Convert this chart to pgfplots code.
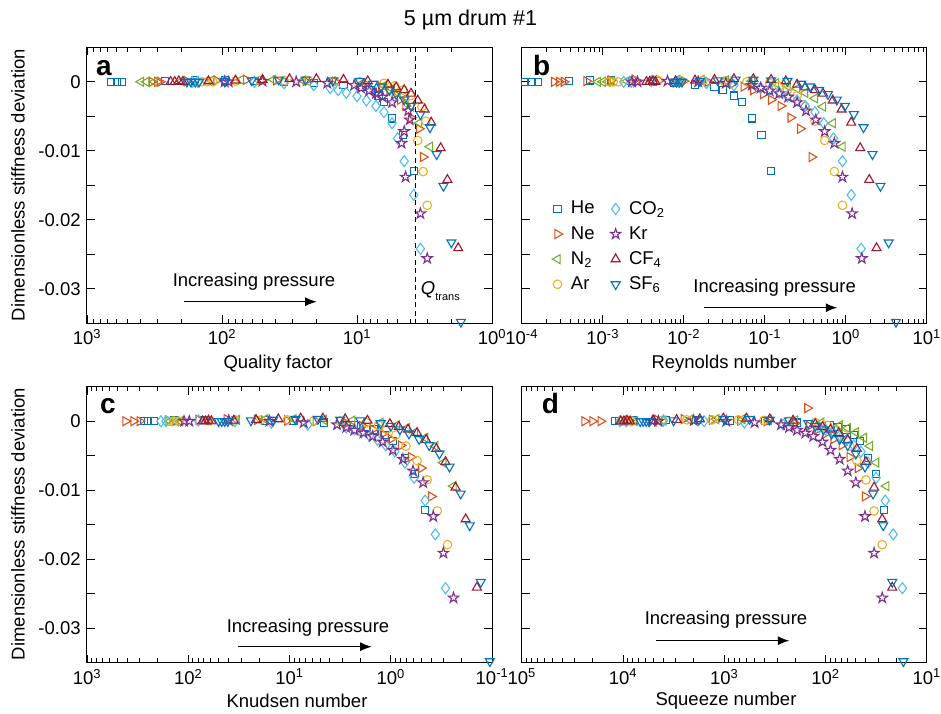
\documentclass[border=0pt]{standalone}
\usepackage{fontspec}
\setmainfont{Liberation Sans}
\usepackage{pgfplots}
\usepackage{pgfplotstable}
\pgfplotsset{compat=1.18}
\usetikzlibrary{arrows.meta}

\definecolor{cHe}{HTML}{0072BD}
\definecolor{cNe}{HTML}{D95319}
\definecolor{cNt}{HTML}{77AC30}
\definecolor{cAr}{HTML}{EDB120}
\definecolor{cCO}{HTML}{4DBEEE}
\definecolor{cKr}{HTML}{7E2F8E}
\definecolor{cCF}{HTML}{A2142F}
\definecolor{cSF}{HTML}{0072BD}

\pgfdeclareplotmark{pentagram}{%
 \pgfpathmoveto{\pgfpointpolar{90}{\pgfplotmarksize}}%
 \pgfpathlineto{\pgfpointpolar{126}{0.382\pgfplotmarksize}}%
 \pgfpathlineto{\pgfpointpolar{162}{\pgfplotmarksize}}%
 \pgfpathlineto{\pgfpointpolar{198}{0.382\pgfplotmarksize}}%
 \pgfpathlineto{\pgfpointpolar{234}{\pgfplotmarksize}}%
 \pgfpathlineto{\pgfpointpolar{270}{0.382\pgfplotmarksize}}%
 \pgfpathlineto{\pgfpointpolar{306}{\pgfplotmarksize}}%
 \pgfpathlineto{\pgfpointpolar{342}{0.382\pgfplotmarksize}}%
 \pgfpathlineto{\pgfpointpolar{18}{\pgfplotmarksize}}%
 \pgfpathlineto{\pgfpointpolar{54}{0.382\pgfplotmarksize}}%
 \pgfpathclose
 \pgfusepathqstroke
}

% columns: a = quality factor, b = Reynolds number, c = Knudsen number, d = squeeze number, y = stiffness deviation
\pgfplotstableread{
a b c d y
661 1.10e-4 275 1.20e4 0
603 1.32e-4 251 1.10e4 0
550 1.58e-4 219 1.00e4 0
263 3.80e-4 138 7.94e3 0.0001
158 6.92e-4 69.2 3.80e3 0.0002
95.5 1.26e-3 34.7 1.82e3 0.0002
57.5 2.29e-3 17.4 871 0.0001
34.7 4.17e-3 9.12 398 0
20.9 7.59e-3 4.57 191 -0.0002
12.6 1.38e-2 2.29 91.2 -0.0005
9.12 2.40e-2 1.74 75.9 -0.0008
7.94 3.02e-2 1.45 63.1 -0.0012
6.92 4.17e-2 1.15 52.5 -0.0020
6.31 5.25e-2 0.955 45.7 -0.0029
5.50 6.92e-2 0.724 38.0 -0.0053
4.57 9.12e-2 0.575 31.6 -0.0077
3.80 0.120 0.457 26.3 -0.0129
}\tHe

\pgfplotstableread{
a b c d y
331 2.51e-4 417 2.40e4 0
302 2.88e-4 347 2.00e4 0
288 3.31e-4 302 1.66e4 0
182 6.31e-4 158 8.71e3 0.0001
110 1.26e-3 79.4 4.57e3 0.0002
66.1 2.51e-3 41.7 2.51e3 0.0003
39.8 5.01e-3 20.9 1.32e3 0.0002
24.0 1.00e-2 10.5 692 0.0001
14.5 2.00e-2 5.50 380 0
8.71 3.98e-2 2.75 200 -0.0003
6.61 5.50e-2 1.91 145 -0.0007
5.75 7.24e-2 1.51 120 -0.0012
5.25 9.55e-2 1.20 100 -0.0018
4.79 0.120 1.00 83.2 -0.0026
4.37 0.158 0.794 69.2 -0.0035
3.98 0.209 0.631 57.5 -0.0052
3.47 0.275 0.501 47.9 -0.0068
3.24 0.380 0.398 40.7 -0.0109
}\tNe

\pgfplotstableread{
a b c d y
398 8.71e-4 151 9.55e3 0
363 1.00e-3 132 8.71e3 0
316 1.15e-3 120 7.59e3 0
200 2.00e-3 63.1 3.98e3 0.0001
120 3.98e-3 33.1 2.19e3 0.0002
72.4 8.32e-3 17.4 1.20e3 0.0003
41.7 1.66e-2 9.12 661 0.0003
25.1 3.31e-2 4.57 363 0.0002
15.1 6.92e-2 2.40 200 0.0001
9.12 0.138 1.26 110 -0.0002
6.31 0.191 0.871 72.4 -0.0006
5.50 0.251 0.692 60.3 -0.0010
5.01 0.316 0.575 50.1 -0.0016
4.37 0.417 0.457 41.7 -0.0024
3.98 0.525 0.363 36.3 -0.0036
3.47 0.692 0.302 31.6 -0.0060
2.88 0.912 0.240 25.1 -0.0094
}\tNt

\pgfplotstableread{
a b c d y
141 1.20e-3 155 1.02e4 0
129 1.35e-3 138 9.12e3 0
117 1.55e-3 123 8.13e3 0
79.4 2.51e-3 63.1 4.17e3 0.0001
52.5 4.79e-3 34.7 2.34e3 0.0002
34.7 9.12e-3 19.1 1.32e3 0.0002
22.9 1.74e-2 10.5 724 0.0002
14.5 3.16e-2 5.75 407 0.0001
9.55 6.03e-2 3.16 229 0
6.31 0.115 1.74 126 -0.0002
5.25 0.151 1.32 95.5 -0.0006
4.57 0.191 1.10 79.4 -0.0012
3.98 0.251 0.891 66.1 -0.0020
3.31 0.316 0.708 57.5 -0.0036
3.09 0.417 0.550 49.0 -0.0057
3.55 0.550 0.437 39.8 -0.0085
3.24 0.724 0.347 33.1 -0.0130
3.02 0.912 0.275 27.5 -0.0179
}\tAr

\pgfplotstableread{
a b c d y
166 1.82e-3 186 1.07e4 0
151 2.24e-3 166 9.33e3 0
95.5 3.98e-3 79.4 3.98e3 0.0001
57.5 8.71e-3 34.7 1.58e3 0
34.7 1.91e-2 15.1 631 -0.0002
20.9 4.17e-2 6.61 263 -0.0005
15.8 8.91e-2 2.75 115 -0.0009
13.8 0.115 2.29 100 -0.0012
12.0 0.151 1.95 85.1 -0.0016
10.0 0.191 1.62 72.4 -0.0021
8.51 0.251 1.35 61.7 -0.0027
7.24 0.316 1.12 52.5 -0.0035
6.31 0.417 0.912 44.7 -0.0044
5.50 0.537 0.724 38.0 -0.0060
5.01 0.708 0.589 31.6 -0.0082
4.47 0.912 0.457 25.7 -0.0115
3.80 1.17 0.363 21.4 -0.0164
3.39 1.55 0.288 17.4 -0.0242
}\tCO

\pgfplotstableread{
a b c d y
95.5 2.29e-3 110 5.13e3 0
89.1 2.69e-3 97.7 4.47e3 0
50.1 6.31e-3 39.8 2.00e3 0.0001
28.2 1.51e-2 15.8 955 0
16.6 3.31e-2 7.24 501 -0.0002
10.5 6.92e-2 3.39 275 -0.0005
9.33 8.91e-2 2.75 229 -0.0009
8.13 0.115 2.29 191 -0.0013
7.24 0.151 1.86 158 -0.0017
6.46 0.195 1.51 132 -0.0022
5.50 0.251 1.20 107 -0.0030
4.17 0.324 0.955 89.1 -0.0042
4.07 0.427 0.759 72.4 -0.0055
4.47 0.550 0.603 60.3 -0.0072
4.68 0.724 0.479 50.1 -0.0089
4.37 0.912 0.380 40.7 -0.0138
3.39 1.20 0.302 33.1 -0.0191
3.02 1.58 0.240 27.5 -0.0256
}\tKr

\pgfplotstableread{
a b c d y
240 3.47e-3 72.4 1.05e4 0
224 3.80e-3 67.6 9.77e3 0
209 4.17e-3 63.1 9.12e3 0.0001
195 4.47e-3 58.9 8.51e3 0
126 7.94e-3 35.5 5.01e3 0.0001
79.4 1.38e-2 21.4 2.95e3 0.0002
50.1 2.40e-2 12.9 1.74e3 0.0003
31.6 4.17e-2 7.76 1.02e3 0.0004
20.0 7.24e-2 4.68 603 0.0004
12.6 0.120 2.82 355 0.0003
8.32 0.182 1.70 209 0.0001
5.89 0.251 1.02 126 -0.0004
5.13 0.316 0.832 107 -0.0008
4.47 0.417 0.676 89.1 -0.0012
3.98 0.525 0.550 74.1 -0.0017
3.55 0.692 0.447 60.3 -0.0027
3.16 0.891 0.355 49.0 -0.0040
2.82 1.17 0.288 39.8 -0.0059
2.40 1.51 0.229 33.1 -0.0096
2.14 1.95 0.182 27.5 -0.0142
1.78 2.40 0.141 21.9 -0.0241
}\tCF

\pgfplotstableread{
a b c d y
182 7.41e-3 50.1 6.76e3 0
170 8.13e-3 46.8 6.31e3 0
158 8.91e-3 43.7 5.89e3 0
148 9.55e-3 40.7 5.50e3 0
95.5 1.58e-2 24.0 3.16e3 0.0001
60.3 2.63e-2 14.5 1.78e3 0.0002
38.0 4.37e-2 8.71 1.00e3 0.0003
24.0 7.24e-2 5.25 562 0.0003
15.1 0.120 3.16 355 0.0002
9.55 0.191 2.00 229 0.0001
7.59 0.282 1.26 148 -0.0003
6.61 0.363 1.00 126 -0.0007
5.75 0.468 0.813 105 -0.0012
5.13 0.603 0.661 87.1 -0.0018
4.47 0.776 0.525 72.4 -0.0026
3.98 0.977 0.417 60.3 -0.0035
3.39 1.26 0.331 50.1 -0.0047
2.88 1.66 0.263 40.7 -0.0066
2.57 2.14 0.204 33.9 -0.0105
2.29 2.69 0.166 26.9 -0.0151
2.00 3.39 0.129 21.9 -0.0233
1.70 4.17 0.105 17.0 -0.0348
}\tSF

\pgfplotsset{
 sHe/.style={only marks, mark=square, mark size=3.6pt, color=cHe, mark options={solid, line width=1.1pt}},
 sNe/.style={only marks, mark=triangle, mark size=5.2pt, color=cNe, mark options={solid, rotate=-90, line width=1.1pt}},
 sNt/.style={only marks, mark=triangle, mark size=5.2pt, color=cNt, mark options={solid, rotate=90, line width=1.1pt}},
 sAr/.style={only marks, mark=o, mark size=4.3pt, color=cAr, mark options={solid, line width=1.1pt}},
 sCO/.style={only marks, mark=diamond, mark size=5.5pt, color=cCO, mark options={solid, line width=1.1pt}},
 sKr/.style={only marks, mark=pentagram, mark size=5.5pt, color=cKr, mark options={solid, line width=1.1pt}},
 sCF/.style={only marks, mark=triangle, mark size=5.2pt, color=cCF, mark options={solid, line width=1.1pt}},
 sSF/.style={only marks, mark=triangle, mark size=5.2pt, color=cSF, mark options={solid, rotate=180, line width=1.1pt}},
 limg/.style={legend image code/.code={%
   \draw[##1] plot coordinates {(0.25cm,0cm)};
   \path[draw=none, fill=none] (0cm,-0.1cm) rectangle (0.65cm,0.1cm);}},
 panel/.style={
  scale only axis, width=405pt, height=276pt, anchor=north west,
  ymin=-0.035, ymax=0.005,
  ytick={-0.03,-0.025,-0.02,-0.015,-0.01,-0.005,0},
  tick align=inside,
  major tick length=8pt, minor tick length=4.5pt,
  tick style={black, line width=0.9pt},
  axis line style={black, line width=1pt},
  clip mode=individual,
  ticklabel style={font=\fontsize{18.5}{22}\selectfont},
  scaled y ticks=false,
 },
}

\newcommand{\gasplots}[1]{%
 \addplot[sHe, forget plot] table[x=#1, y=y] {\tHe};
 \addplot[sNe, forget plot] table[x=#1, y=y] {\tNe};
 \addplot[sNt, forget plot] table[x=#1, y=y] {\tNt};
 \addplot[sAr, forget plot] table[x=#1, y=y] {\tAr};
 \addplot[sCO, forget plot] table[x=#1, y=y] {\tCO};
 \addplot[sKr, forget plot] table[x=#1, y=y] {\tKr};
 \addplot[sCF, forget plot] table[x=#1, y=y] {\tCF};
 \addplot[sSF, forget plot] table[x=#1, y=y] {\tSF};
}

\begin{document}
\fontsize{18.5}{22}\selectfont
\begin{tikzpicture}[font=\fontsize{18.5}{22}\selectfont]
\path[use as bounding box] (0pt,0pt) rectangle (941pt,-713pt);

% ---- a: quality factor
\begin{semilogxaxis}[panel, at={(87pt,-47.3pt)},
  xmin=1, xmax=1000, x dir=reverse,
  xtick={1,10,100,1000},
  xticklabels={10\textsuperscript{0},10\textsuperscript{1},10\textsuperscript{2},10\textsuperscript{3}},
  minor xtick={2,3,4,5,6,7,8,9,20,30,40,50,60,70,80,90,200,300,400,500,600,700,800,900},
  yticklabels={-0.03,{},-0.02,{},-0.01,{},0}]
 \gasplots{a}
 \addplot[forget plot, black, line width=1pt, dash pattern=on 5pt off 3.5pt] coordinates {(3.67,0.005) (3.67,-0.035)};
\end{semilogxaxis}

% ---- b: Reynolds number
\begin{semilogxaxis}[panel, at={(521.7pt,-47.3pt)},
  xmin=1e-4, xmax=10,
  xtick={1e-4,1e-3,1e-2,1e-1,1,10},
  xticklabels={10\textsuperscript{-4},10\textsuperscript{-3},10\textsuperscript{-2},10\textsuperscript{-1},10\textsuperscript{0},10\textsuperscript{1}},
  minor xtick={2e-4,3e-4,4e-4,5e-4,6e-4,7e-4,8e-4,9e-4,2e-3,3e-3,4e-3,5e-3,6e-3,7e-3,8e-3,9e-3,0.02,0.03,0.04,0.05,0.06,0.07,0.08,0.09,0.2,0.3,0.4,0.5,0.6,0.7,0.8,0.9,2,3,4,5,6,7,8,9},
  yticklabels={},
  legend columns=2, legend cell align=left,
  legend style={at={(0.063,0.458)}, anchor=north west, draw=none, fill=none,
    font=\fontsize{18.5}{22}\selectfont, row sep=5.5pt,
    /tikz/every even column/.append style={column sep=12pt}}]
 \gasplots{b}
 \addlegendimage{sHe,limg}\addlegendentry{He}
 \addlegendimage{sCO,limg}\addlegendentry{CO\textsubscript{2}}
 \addlegendimage{sNe,limg}\addlegendentry{Ne}
 \addlegendimage{sKr,limg}\addlegendentry{Kr}
 \addlegendimage{sNt,limg}\addlegendentry{N\textsubscript{2}}
 \addlegendimage{sCF,limg}\addlegendentry{CF\textsubscript{4}}
 \addlegendimage{sAr,limg}\addlegendentry{Ar}
 \addlegendimage{sSF,limg}\addlegendentry{SF\textsubscript{6}}
\end{semilogxaxis}

% ---- c: Knudsen number
\begin{semilogxaxis}[panel, at={(87pt,-386.7pt)},
  xmin=0.1, xmax=1000, x dir=reverse,
  xtick={0.1,1,10,100,1000},
  xticklabels={10\textsuperscript{-1},10\textsuperscript{0},10\textsuperscript{1},10\textsuperscript{2},10\textsuperscript{3}},
  minor xtick={0.2,0.3,0.4,0.5,0.6,0.7,0.8,0.9,2,3,4,5,6,7,8,9,20,30,40,50,60,70,80,90,200,300,400,500,600,700,800,900},
  yticklabels={-0.03,{},-0.02,{},-0.01,{},0}]
 \gasplots{c}
\end{semilogxaxis}

% ---- d: squeeze number
\begin{semilogxaxis}[panel, at={(521.7pt,-386.7pt)},
  xmin=10, xmax=1e5, x dir=reverse,
  xtick={10,100,1000,10000,100000},
  xticklabels={10\textsuperscript{1},10\textsuperscript{2},10\textsuperscript{3},10\textsuperscript{4},10\textsuperscript{5}},
  minor xtick={20,30,40,50,60,70,80,90,200,300,400,500,600,700,800,900,2000,3000,4000,5000,6000,7000,8000,9000,20000,30000,40000,50000,60000,70000,80000,90000},
  yticklabels={}]
 \gasplots{d}
 \addplot[sNe, forget plot] coordinates {(151,0.0019)};
\end{semilogxaxis}

% ---- texts
\node[font=\fontsize{21.5}{25}\selectfont] at (470.5pt,-20pt) {5 µm drum \#1};
\node[rotate=90] at (18pt,-185pt) {Dimensionless stiffness deviation};
\node[rotate=90] at (18pt,-524pt) {Dimensionless stiffness deviation};
\node at (278pt,-364pt) {Quality factor};
\node at (724pt,-364pt) {Reynolds number};
\node at (297pt,-701pt) {Knudsen number};
\node at (726pt,-701pt) {Squeeze number};

\node[anchor=base west, inner sep=0pt, font=\bfseries\fontsize{28}{30}\selectfont] at (96pt,-75pt) {a};
\node[anchor=base west, inner sep=0pt, font=\bfseries\fontsize{28}{30}\selectfont] at (533pt,-75pt) {b};
\node[anchor=base west, inner sep=0pt, font=\bfseries\fontsize{28}{30}\selectfont] at (100pt,-413.3pt) {c};
\node[anchor=base west, inner sep=0pt, font=\bfseries\fontsize{28}{30}\selectfont] at (541.7pt,-413.3pt) {d};

\node at (254pt,-281.7pt) {Increasing pressure};
\draw[-{Latex[length=11.5pt,width=9pt]}, line width=1.2pt] (184pt,-301.7pt) -- (316.7pt,-301.7pt);
\node at (774.7pt,-287.5pt) {Increasing pressure};
\draw[-{Latex[length=11.5pt,width=9pt]}, line width=1.2pt] (704pt,-307.7pt) -- (837.3pt,-307.7pt);
\node at (308pt,-628pt) {Increasing pressure};
\draw[-{Latex[length=11.5pt,width=9pt]}, line width=1.2pt] (238.3pt,-646.7pt) -- (371.7pt,-646.7pt);
\node at (726pt,-620pt) {Increasing pressure};
\draw[-{Latex[length=11.5pt,width=9pt]}, line width=1.2pt] (656pt,-640.7pt) -- (789.3pt,-640.7pt);

\node[anchor=base west, inner sep=0pt] at (420.7pt,-294pt) {\textit{Q}\raisebox{-6pt}{\fontsize{11}{12}\selectfont trans}};
\end{tikzpicture}
\end{document}
